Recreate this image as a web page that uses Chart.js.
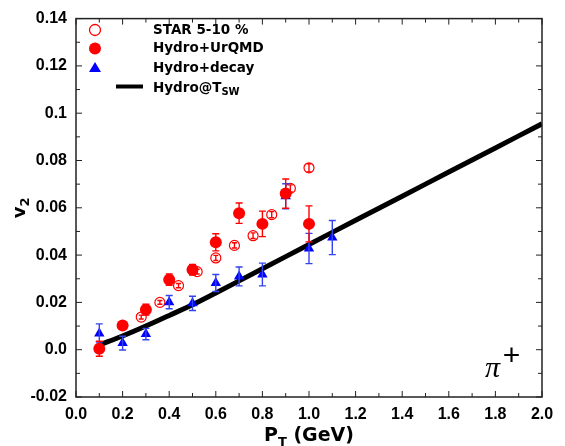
<!DOCTYPE html>
<html>
<head>
<meta charset="utf-8">
<script src="https://cdn.jsdelivr.net/npm/chart.js@4.4.0/dist/chart.umd.min.js"></script>
<style>
html, body { margin: 0; padding: 0; background: #fff; }
</style>
</head>
<body>
<canvas id="chart" width="565" height="446"></canvas>
<script>
// STAR 5-10 % (open circles)
const starX = [0.28, 0.36, 0.44, 0.52, 0.60, 0.68, 0.76, 0.84, 0.92, 1.00];
const starY = [0.0138, 0.0200, 0.0271, 0.0330, 0.0388, 0.0441, 0.0482, 0.0571, 0.0682, 0.0769];
const starErr = [0.0008, 0.0008, 0.0009, 0.0010, 0.0011, 0.0011, 0.0012, 0.0013, 0.0015, 0.0017];

// Hydro+UrQMD (filled circles)
const urqmdX = [0.1, 0.2, 0.3, 0.4, 0.5, 0.6, 0.7, 0.8, 0.9, 1.0];
const urqmdY = [0.0004, 0.0102, 0.0169, 0.0296, 0.0338, 0.0454, 0.0577, 0.0532, 0.0660, 0.0532];
const urqmdErr = [0.0032, 0.0015, 0.0023, 0.0024, 0.0022, 0.0036, 0.0043, 0.0054, 0.0062, 0.0076];

// Hydro+decay (triangles)
const decayX = [0.1, 0.2, 0.3, 0.4, 0.5, 0.6, 0.7, 0.8, 0.9, 1.0, 1.1];
const decayY = [0.0069, 0.0028, 0.0066, 0.0201, 0.0196, 0.0282, 0.0310, 0.0318, 0.0649, 0.0428, 0.0474];
const decayErr = [0.0040, 0.0029, 0.0024, 0.0028, 0.0030, 0.0036, 0.0040, 0.0048, 0.0053, 0.0064, 0.0072];

// Hydro@Tsw curve
const curveX = [0.1, 0.2, 0.3, 0.4, 0.5, 0.6, 0.8, 1.0, 1.2, 1.4, 1.6, 1.8, 2.0];
const curveY = [0.0020, 0.0058, 0.0100, 0.0145, 0.0190, 0.0240, 0.0342, 0.0445, 0.0547, 0.0649, 0.0751, 0.0853, 0.0955];

const xTicks = [0.0, 0.2, 0.4, 0.6, 0.8, 1.0, 1.2, 1.4, 1.6, 1.8, 2.0];
const yTicks = [-0.02, 0.0, 0.02, 0.04, 0.06, 0.08, 0.10, 0.12, 0.14];
const yTickLabels = ['-0.02', '0.0', '0.02', '0.04', '0.06', '0.08', '0.1', '0.12', '0.14'];

const toPoints = (xs, ys) => xs.map((x, i) => ({ x: x, y: ys[i] }));

const RED = '#ff0000';
const BLUE = '#0000ff';

// text pieces drawn one after another, each {t, font, dy}
function runText(ctx, x, y, parts, align) {
    ctx.textAlign = 'left';
    const widths = parts.map(p => { ctx.font = p.font; return ctx.measureText(p.t).width; });
    const total = widths.reduce((s, w) => s + w, 0);
    let cx = align === 'center' ? x - total / 2 : x;
    parts.forEach((p, i) => {
        ctx.font = p.font;
        ctx.fillText(p.t, cx, y + (p.dy || 0));
        cx += widths[i];
    });
}

const decorPlugin = {
    id: 'decor',
    afterDatasetDraw(chart, args) {
        const ds = chart.data.datasets[args.index];
        if (!ds.errors) return;
        const ctx = chart.ctx;
        const xs = chart.scales.x;
        const ys = chart.scales.y;
        ctx.save();
        ctx.strokeStyle = ds.errorColor;
        ctx.lineWidth = 1.4;
        const cap = ds.capSize;
        ds.data.forEach((p, i) => {
            const px = xs.getPixelForValue(p.x);
            const top = ys.getPixelForValue(p.y + ds.errors[i]);
            const bot = ys.getPixelForValue(p.y - ds.errors[i]);
            ctx.beginPath();
            ctx.moveTo(px, top);
            ctx.lineTo(px, bot);
            ctx.moveTo(px - cap, top);
            ctx.lineTo(px + cap, top);
            ctx.moveTo(px - cap, bot);
            ctx.lineTo(px + cap, bot);
            ctx.stroke();
        });
        ctx.restore();
    },
    afterDraw(chart) {
        const ctx = chart.ctx;
        const a = chart.chartArea;
        const xs = chart.scales.x;
        const ys = chart.scales.y;
        ctx.save();

        // frame
        ctx.strokeStyle = '#222';
        ctx.lineWidth = 1.5;
        ctx.strokeRect(a.left, a.top, a.right - a.left, a.bottom - a.top);

        // inward ticks, major and minor
        ctx.lineWidth = 1;
        ctx.beginPath();
        for (let i = 0; i < xTicks.length; i++) {
            const px = xs.getPixelForValue(xTicks[i]);
            ctx.moveTo(px, a.bottom); ctx.lineTo(px, a.bottom - 6);
            ctx.moveTo(px, a.top); ctx.lineTo(px, a.top + 6);
            if (i < xTicks.length - 1) {
                const mx = xs.getPixelForValue((xTicks[i] + xTicks[i + 1]) / 2);
                ctx.moveTo(mx, a.bottom); ctx.lineTo(mx, a.bottom - 4);
                ctx.moveTo(mx, a.top); ctx.lineTo(mx, a.top + 4);
            }
        }
        for (let i = 0; i < yTicks.length; i++) {
            const py = ys.getPixelForValue(yTicks[i]);
            ctx.moveTo(a.left, py); ctx.lineTo(a.left + 6, py);
            ctx.moveTo(a.right, py); ctx.lineTo(a.right - 6, py);
            if (i < yTicks.length - 1) {
                const my = ys.getPixelForValue((yTicks[i] + yTicks[i + 1]) / 2);
                ctx.moveTo(a.left, my); ctx.lineTo(a.left + 4, my);
                ctx.moveTo(a.right, my); ctx.lineTo(a.right - 4, my);
            }
        }
        ctx.stroke();

        ctx.fillStyle = '#000';
        ctx.textBaseline = 'alphabetic';

        // x axis title
        runText(ctx, (a.left + a.right) / 2, 441, [
            { t: 'P', font: 'bold 19px "DejaVu Sans"' },
            { t: 'T', font: 'bold 13px "DejaVu Sans"', dy: 5 },
            { t: ' (GeV)', font: 'bold 19px "DejaVu Sans"' }
        ], 'center');

        // y axis title, rotated
        ctx.save();
        ctx.translate(25, (a.top + a.bottom) / 2);
        ctx.rotate(-Math.PI / 2);
        runText(ctx, 0, 0, [
            { t: 'v', font: 'bold 18px "DejaVu Sans"' },
            { t: '2', font: 'bold 13px "DejaVu Sans"', dy: 4 }
        ], 'center');
        ctx.restore();

        // legend
        const rows = [30, 48.5, 68, 86.5];
        const mx = 95;
        ctx.lineWidth = 1.3;
        ctx.strokeStyle = RED;
        ctx.beginPath();
        ctx.arc(mx, rows[0], 5.5, 0, Math.PI * 2);
        ctx.stroke();
        ctx.fillStyle = RED;
        ctx.beginPath();
        ctx.arc(mx, rows[1], 6, 0, Math.PI * 2);
        ctx.fill();
        ctx.fillStyle = BLUE;
        ctx.beginPath();
        ctx.moveTo(mx, rows[2] - 6);
        ctx.lineTo(mx + 6, rows[2] + 4);
        ctx.lineTo(mx - 6, rows[2] + 4);
        ctx.closePath();
        ctx.fill();
        ctx.strokeStyle = '#000';
        ctx.lineWidth = 4;
        ctx.beginPath();
        ctx.moveTo(116, rows[3]);
        ctx.lineTo(143, rows[3]);
        ctx.stroke();

        ctx.fillStyle = '#000';
        ctx.textBaseline = 'middle';
        ctx.textAlign = 'left';
        ctx.font = 'bold 13.5px "DejaVu Sans"';
        ctx.fillText('STAR 5-10 %', 153, rows[0]);
        ctx.fillText('Hydro+UrQMD', 153, rows[1]);
        ctx.fillText('Hydro+decay', 153, rows[2]);
        ctx.textBaseline = 'alphabetic';
        runText(ctx, 153, rows[3] + 5, [
            { t: 'Hydro@T', font: 'bold 13.5px "DejaVu Sans"' },
            { t: 'SW', font: 'bold 10px "DejaVu Sans"', dy: 3 }
        ], 'left');

        // particle label
        ctx.font = 'italic 30px "Liberation Serif"';
        ctx.fillText('\u03c0', 485, 377);
        ctx.font = '30px "Liberation Sans"';
        ctx.textAlign = 'center';
        ctx.textBaseline = 'middle';
        ctx.fillText('+', 511.5, 357);

        ctx.restore();
    }
};

new Chart(document.getElementById('chart'), {
    type: 'scatter',
    data: {
        datasets: [
            {
                label: 'Hydro+UrQMD',
                data: toPoints(urqmdX, urqmdY),
                pointStyle: 'circle',
                pointRadius: 6,
                backgroundColor: RED,
                borderColor: RED,
                borderWidth: 0,
                errors: urqmdErr,
                errorColor: RED,
                capSize: 3.5,
                order: 1
            },
            {
                label: 'Hydro+decay',
                data: toPoints(decayX, decayY),
                pointStyle: 'triangle',
                pointRadius: 6,
                backgroundColor: BLUE,
                borderColor: BLUE,
                borderWidth: 0,
                errors: decayErr,
                errorColor: '#3344ee',
                capSize: 3.5,
                order: 2
            },
            {
                label: 'STAR 5-10 %',
                data: toPoints(starX, starY),
                pointStyle: 'circle',
                pointRadius: 5,
                backgroundColor: '#fff',
                borderColor: RED,
                borderWidth: 1.2,
                errors: starErr,
                errorColor: RED,
                capSize: 2.5,
                order: 3
            },
            {
                label: 'Hydro@Tsw',
                data: toPoints(curveX, curveY),
                showLine: true,
                pointRadius: 0,
                borderColor: '#000',
                borderWidth: 5,
                tension: 0.3,
                fill: false,
                order: 4
            }
        ]
    },
    plugins: [decorPlugin],
    options: {
        responsive: false,
        animation: false,
        events: [],
        layout: {
            autoPadding: false,
            padding: { top: 10, right: 23, left: 0, bottom: 0 }
        },
        plugins: {
            legend: { display: false },
            tooltip: { enabled: false }
        },
        scales: {
            x: {
                type: 'linear',
                min: 0,
                max: 2,
                afterFit: (scale) => { scale.height = 49; },
                afterBuildTicks: (scale) => { scale.ticks = xTicks.map(v => ({ value: v })); },
                grid: { display: false, drawTicks: false },
                border: { display: false },
                ticks: {
                    padding: 8,
                    color: '#000',
                    font: { family: '"Liberation Sans"', weight: 'bold', size: 16 },
                    maxRotation: 0,
                    callback: (v) => Number(v).toFixed(1)
                }
            },
            y: {
                type: 'linear',
                min: -0.02,
                max: 0.14,
                afterFit: (scale) => { scale.width = 76; },
                afterBuildTicks: (scale) => { scale.ticks = yTicks.map(v => ({ value: v })); },
                grid: { display: false, drawTicks: false },
                border: { display: false },
                ticks: {
                    padding: 9,
                    color: '#000',
                    font: { family: '"Liberation Sans"', weight: 'bold', size: 16 },
                    callback: (v, i) => yTickLabels[i]
                }
            }
        }
    }
});
</script>
</body>
</html>
